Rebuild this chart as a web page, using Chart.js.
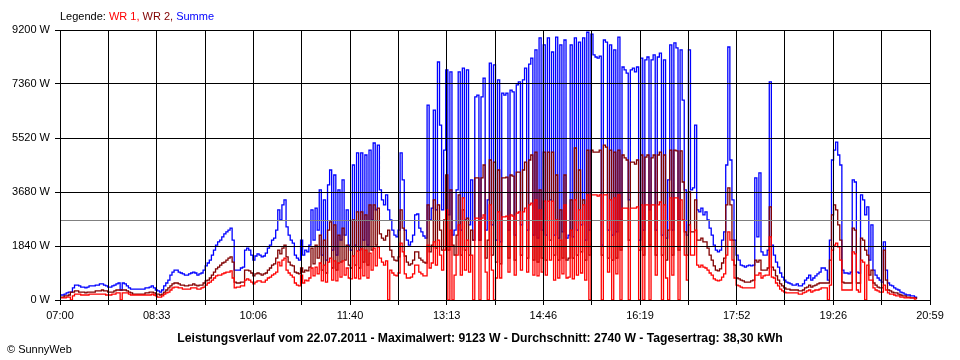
<!DOCTYPE html>
<html>
<head>
<meta charset="utf-8">
<title>Leistungsverlauf 22.07.2011</title>
<script src="https://cdn.jsdelivr.net/npm/chart.js@4.4.1/dist/chart.umd.min.js"></script>
<style>
  html, body { margin: 0; padding: 0; background: #fff; }
  canvas { display: block; }
</style>
</head>
<body>
<canvas id="chart" width="960" height="360"></canvas>
<script>
// Leistungsverlauf vom 22.07.2011, Werte in W, ein Wert alle 2 Minuten ab 07:00

const timeLabels = ['07:00', '08:33', '10:06', '11:40', '13:13', '14:46', '16:19', '17:52', '19:26', '20:59'];
const dayMinutes = 839;      // 07:00 .. 20:59
const gridSteps = 18;
const sampleMinutes = 2;
const powerMax = 9200;
const powerStep = 1840;
const averageW = 2740;

const legendParts = [
  { text: 'Legende: ', color: '#000000' },
  { text: 'WR 1,', color: '#ff0000' },
  { text: ' WR 2,', color: '#800000' },
  { text: ' Summe', color: '#0000ff' }
];
const footerTitle = 'Leistungsverlauf vom 22.07.2011 - Maximalwert: 9123 W - Durchschnitt: 2740 W - Tagesertrag: 38,30 kWh';
const copyright = '\u00A9 SunnyWeb';

const summe = [
  170, 170, 200, 240, 270, 270, 410, 510, 510, 480,
  440, 440, 410, 440, 480, 480, 480, 510, 510, 550,
  550, 510, 480, 440, 440, 480, 510, 550, 580, 340,
  580, 550, 480, 410, 370, 370, 370, 370, 370, 370,
  370, 410, 410, 440, 480, 410, 340, 310, 270, 340,
  480, 580, 680, 850, 950, 1020, 1020, 950, 920, 890,
  850, 850, 890, 920, 950, 920, 850, 890, 920, 1020,
  1160, 1260, 1360, 1530, 1700, 1870, 1980, 2040, 2150, 2250,
  2320, 2380, 2450, 2040,
  1020, 1020, 1020, 1090, 1120, 1700,
  1770, 1700, 1530, 1360, 1500, 1570, 1530, 1470, 1500, 1600,
  1770, 1870, 2040, 2110, 2380, 3070, 2730, 3240, 3410, 2490,
  2210, 2040, 1940, 1530, 1430, 1360, 2040, 1530, 1700, 1640,
  1870, 3070, 2040, 3130, 2380, 3750, 1530, 3410, 1360, 3920,
  4430, 1700, 4260, 1530, 3750, 2040, 4090, 2210, 3070, 1870,
  1700, 4600, 1870, 5010, 1700, 5010, 2040, 4940, 1870, 5110,
  2730, 5350, 3070, 5280, 3750, 3410, 3240, 3580, 3070, 2730,
  2380, 2210, 2150, 2380, 5010, 4090, 2380, 2040,
  1870, 1980,
  2210, 2900, 2930, 2450, 2320, 2180, 2110, 6640, 2730, 3130,
  6470, 3070, 8110, 5960, 3070, 5110, 7840, 2900, 7770, 2210,
  2380, 3750, 7770, 2380, 7900, 2730, 7840, 2560, 4090, 2040,
  6920, 6980, 2040, 6920, 7560, 2380, 3410, 8070, 2560, 8010,
  2040, 7500, 1980, 7050, 6980, 7050, 2380, 7150, 7090, 2210,
  7330, 7430, 2560, 7500, 7900, 2380, 8040, 8240, 2210, 8520,
  2110, 8930, 2380, 8690, 2210, 8930, 3410, 8450, 2210, 8960,
  2110, 8690, 2320, 8860, 2110, 2210, 8690, 2150, 8930, 2380,
  8790, 2560, 8930, 2040, 9123, 2380, 9060, 8350, 8280, 8240,
  8310, 1870, 8860, 8790, 2380, 8690, 2210, 8520, 2320, 8960,
  2730, 7940, 7840, 7730, 3410, 7840, 7900, 7770, 7940, 2040,
  8240, 2380, 8180, 8280, 3070, 8180, 8350, 2380, 8280, 8410,
  2210, 8180, 2110, 4090, 8690, 2380, 8760, 8590, 2730, 8520,
  6810, 3750, 2210, 8520, 3750, 3820, 5960, 3070, 3000, 3130,
  2900, 3000, 2730, 2450, 2210, 1870, 1700, 1640, 1700, 2040,
  2320, 4600, 8620, 4770, 3410,
  2040, 1530, 1360, 1190, 1160,
  1120, 1160, 1190, 1160, 1190, 4160, 2150, 4330, 1640, 1530,
  1530, 1700, 7430, 1870, 1530, 1290, 1120, 920, 780, 680,
  610, 580, 550, 510, 510, 550, 480, 480, 550, 680,
  750, 850, 680, 750, 820, 890, 950, 1090, 1090, 1020,
  680, 2040, 4770, 5110, 5380, 4940, 4600, 1020, 920, 920,
  890, 950, 4090, 4020, 950, 920, 3580, 3410, 2900, 3170,
  1360, 2560, 1020, 850, 750, 680, 610, 1980, 1020, 580,
  510, 480, 410, 370, 340, 270, 240, 200, 170, 170,
  140, 140, 100, 70
];

const wr2 = [
  100, 100, 140, 140, 170, 270, 270, 310, 310, 270,
  270, 270, 240, 270, 270, 270, 270, 310, 310, 310,
  340, 310, 310, 270, 270, 270, 310, 340, 340, 340,
  340, 340, 310, 270, 240, 200, 200, 200, 200, 200,
  200, 240, 240, 270, 270, 240, 200, 200, 170, 200,
  270, 340, 410, 480, 550, 580, 580, 550, 510, 510,
  480, 480, 510, 510, 550, 510, 480, 510, 510, 580,
  650, 680, 750, 850, 950, 1060, 1120, 1190, 1260, 1290,
  1360, 1430, 1470, 1290,
  610, 580, 580, 610, 610, 1020,
  1020, 990, 920, 820, 890, 920, 890, 850, 890, 920,
  1020, 1090, 1190, 1230, 1430, 1700, 1570, 1770, 1870, 1470,
  1290, 1190, 1160, 950, 920, 890, 1090, 950, 1020, 990,
  1120, 1770, 1230, 1870, 1430, 2210, 1020, 2040, 920, 2380,
  2660, 1090, 2560, 1020, 2210, 1290, 2450, 1360, 1870, 1190,
  1090, 2730, 1190, 3000, 1090, 3000, 1290, 2900, 1190, 3240,
  1700, 3240, 1870, 3130, 2250, 2110, 2040, 2180, 2380, 1700,
  1470, 1360, 1330, 1470, 3070, 2450, 1500, 1290,
  1190, 1230,
  1360, 1640, 1640, 1430, 1360, 1290, 1260, 3240, 1640, 1870,
  3410, 1770, 3240, 2380, 1700, 2730, 4260, 1700, 3750, 1870,
  1530, 2210, 3580, 1530, 3070, 1700, 2790, 1530, 2380, 2040,
  4160, 4160, 2040, 4160, 4600, 1430, 2040, 4770, 1530, 4700,
  1290, 4430, 1230, 4160, 4160, 4190, 1430, 4260, 4220, 1360,
  4360, 4360, 1530, 4430, 4700, 1430, 4770, 4940, 1360, 5040,
  1290, 3750, 1430, 5040, 1360, 5040, 2040, 5040, 1530, 4260,
  1360, 3070, 1430, 4260, 1360, 1430, 3410, 1430, 5180, 1530,
  4430, 1640, 3410, 1360, 5110, 1530, 5110, 5040, 5040, 5040,
  5110, 1530, 5280, 5210, 1430, 5110, 1360, 5040, 1430, 5110,
  1700, 4940, 4840, 4770, 2040, 4700, 4700, 4630, 4770, 1700,
  4940, 1530, 4870, 4940, 1870, 4840, 4940, 1530, 4940, 5040,
  1530, 4940, 1360, 2380, 5110, 1530, 5110, 5080, 1700, 5080,
  4020, 2320, 1530, 3680, 2320, 2320, 3410, 2040, 2040, 2110,
  1980, 1980, 1770, 1530, 1360, 1160, 1020, 990, 1060, 1260,
  1430, 3240, 3820, 3240, 2040,
  1190, 750, 720, 680, 650,
  610, 610, 610, 650, 680, 1360, 1290, 1360, 1020, 1020,
  1020, 1090, 3170, 1120, 1020, 820, 680, 550, 480, 410,
  370, 370, 340, 340, 340, 340, 310, 310, 340, 410,
  440, 510, 440, 480, 510, 550, 580, 580, 580, 580,
  580, 1360, 2900, 3240, 3070, 2560, 2040, 610, 580, 580,
  580, 580, 2450, 2380, 580, 580, 2110, 2040, 1700, 1530,
  850, 1020, 580, 510, 440, 410, 410, 1700, 680, 340,
  310, 270, 240, 240, 200, 170, 140, 140, 100, 100,
  70, 70, 70, 30
];

const wr1 = [
  70, 70, 70, 100, 100, 0, 140, 200, 200, 200,
  170, 170, 170, 170, 200, 200, 200, 200, 200, 200,
  200, 200, 170, 170, 170, 200, 200, 240, 240, 0,
  240, 240, 240, 200, 170, 170, 170, 170, 170, 170,
  170, 170, 170, 170, 200, 170, 140, 100, 100, 140,
  200, 240, 270, 340, 410, 440, 440, 410, 410, 370,
  370, 370, 370, 410, 410, 410, 370, 370, 410, 440,
  510, 580, 610, 680, 750, 820, 850, 850, 890, 920,
  950, 950, 990, 750,
  410, 440, 440, 480, 480, 680,
  720, 680, 610, 550, 610, 650, 650, 610, 610, 680,
  750, 780, 850, 890, 950, 1290, 1160, 1360, 1430, 1020,
  920, 850, 780, 580, 510, 480, 850, 580, 680, 650,
  750, 1090, 820, 1120, 890, 1260, 650, 1190, 610, 1290,
  1430, 680, 1330, 650, 1260, 780, 1330, 850, 1090, 750,
  720, 1500, 750, 1670, 720, 1740, 820, 1700, 750, 1600,
  1020, 1770, 1160, 1810, 1430, 1290, 1190, 1330, 0, 1020,
  920, 850, 820, 920, 1940, 1640, 890, 750,
  750, 780,
  890, 1190, 1190, 950, 890, 820, 820, 1870, 1090, 1260,
  1980, 1190, 2040, 1530, 1020, 1700, 3070, 0, 2380, 0,
  850, 1530, 2560, 850, 3480, 1020, 2040, 950, 1530, 0,
  2790, 2790, 0, 2790, 2900, 950, 0, 3240, 1020, 0,
  750, 3000, 750, 2830, 2830, 2860, 950, 2900, 2860, 850,
  2960, 3000, 1020, 3000, 3130, 950, 3240, 3300, 850, 3410,
  820, 3070, 950, 3370, 850, 3370, 1360, 3370, 680, 2730,
  750, 2040, 890, 3240, 750, 780, 2380, 720, 3410, 850,
  3070, 920, 3240, 680, 3580, 0, 3580, 3580, 3580, 3540,
  3580, 0, 3580, 3580, 950, 3410, 0, 3480, 890, 3580,
  0, 3130, 3130, 3130, 0, 3130, 3130, 3130, 3170, 0,
  3240, 0, 3240, 3240, 0, 3240, 3240, 850, 3240, 3340,
  0, 3240, 750, 0, 3480, 850, 3480, 3480, 0, 3410,
  2730, 1530, 680, 2560, 1530, 1530, 2380, 1190, 1120, 1190,
  1120, 1090, 1020, 920, 850, 720, 680, 650, 680, 780,
  890, 1530, 2320, 2040, 1360,
  750, 510, 480, 440, 410,
  410, 410, 410, 410, 410, 850, 850, 920, 750, 820,
  850, 850, 2150, 780, 750, 580, 480, 370, 310, 270,
  240, 240, 240, 240, 240, 240, 200, 200, 240, 270,
  310, 340, 270, 310, 340, 340, 370, 410, 410, 410,
  0, 510, 1700, 1870, 1940, 1810, 1360, 340, 340, 340,
  340, 340, 1640, 1570, 340, 270, 1360, 1290, 0, 1190,
  680, 680, 410, 340, 310, 270, 270, 510, 340, 240,
  200, 200, 170, 140, 140, 100, 100, 70, 70, 70,
  70, 70, 30, 30
];

const FONT = '"Liberation Sans", Arial, sans-serif';

function toPoints(values) {
  return values.map((v, i) => ({ x: i * sampleMinutes, y: v }));
}

function lineSet(label, values, color) {
  return {
    label, data: toPoints(values),
    borderColor: color, backgroundColor: color,
    borderWidth: 1.3, pointRadius: 0, stepped: true, fill: false
  };
}

// Durchschnittslinie, Legende und Fusszeile
const sunnyWebText = {
  id: 'sunnyWebText',
  afterDatasetsDraw(chart) {
    const { ctx, chartArea, scales } = chart;
    const y = Math.round(scales.y.getPixelForValue(averageW)) + 0.5;
    ctx.save();
    ctx.strokeStyle = '#808080';
    ctx.lineWidth = 1;
    ctx.beginPath();
    ctx.moveTo(chartArea.left, y);
    ctx.lineTo(chartArea.right, y);
    ctx.stroke();
    ctx.restore();
  },
  afterDraw(chart) {
    const ctx = chart.ctx;
    ctx.save();
    ctx.textBaseline = 'alphabetic';
    ctx.font = '11px ' + FONT;
    let x = chart.chartArea.left;
    legendParts.forEach(p => {
      ctx.fillStyle = p.color;
      ctx.fillText(p.text, x, 20);
      x += ctx.measureText(p.text).width;
    });
    ctx.fillStyle = '#000';
    ctx.font = 'bold 12.2px ' + FONT;
    ctx.textAlign = 'center';
    ctx.fillText(footerTitle, 480, 342);
    ctx.font = '11px ' + FONT;
    ctx.textAlign = 'left';
    ctx.fillText(copyright, 7, 353);
    ctx.restore();
  }
};

new Chart(document.getElementById('chart'), {
  type: 'line',
  data: {
    datasets: [
      lineSet('WR 1', wr1, '#ff0000'),
      lineSet('WR 2', wr2, '#800000'),
      lineSet('Summe', summe, '#0000ff')
    ]
  },
  options: {
    responsive: false, animation: false, devicePixelRatio: 1,
    layout: { padding: { top: 30, right: 30, left: 0, bottom: 0 } },
    plugins: { legend: { display: false }, tooltip: { enabled: false } },
    scales: {
      x: {
        type: 'linear', min: 0, max: dayMinutes,
        grid: { color: '#000', lineWidth: 1, tickLength: 5, z: 1 },
        border: { color: '#000', z: 1 },
        ticks: {
          color: '#000', font: { family: FONT, size: 11 }, padding: 4,
          maxRotation: 0, autoSkip: false,
          callback: (v, i) => (i % 2 === 0 ? timeLabels[i / 2] : '')
        },
        afterBuildTicks: s => {
          s.ticks = Array.from({ length: gridSteps + 1 }, (_, i) => ({ value: i * dayMinutes / gridSteps }));
        },
        afterFit: s => { s.height = 60; }
      },
      y: {
        min: 0, max: powerMax,
        grid: { color: '#000', lineWidth: 1, tickLength: 5, z: 1 },
        border: { color: '#000', z: 1 },
        ticks: {
          color: '#000', font: { family: FONT, size: 11 }, padding: 5,
          callback: v => v + ' W'
        },
        afterBuildTicks: s => {
          s.ticks = Array.from({ length: powerMax / powerStep + 1 }, (_, i) => ({ value: i * powerStep }));
        },
        afterFit: s => { s.width = 60; }
      }
    }
  },
  plugins: [sunnyWebText]
});
</script>
</body>
</html>
